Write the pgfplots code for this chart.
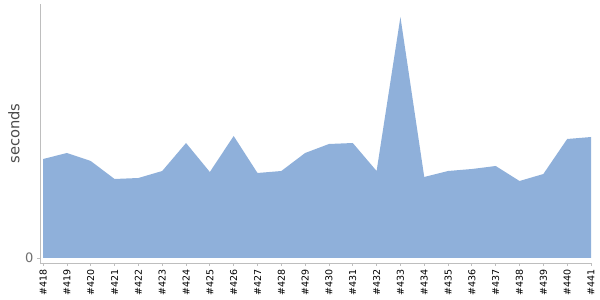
\documentclass[border=0pt]{standalone}
\usepackage{pgfplots}
\pgfplotsset{compat=1.18}
\usepackage{fontspec}
\setmainfont{DejaVu Sans}
\definecolor{areablue}{RGB}{143,176,218}
\definecolor{axisgray}{RGB}{190,190,190}
\definecolor{labgray}{RGB}{75,75,75}
\begin{document}
\begin{tikzpicture}[x=1pt,y=1pt]
\begin{axis}[
  scale only axis,
  width=551pt, height=259pt,
  xmin=-0.13, xmax=23,
  ymin=-5, ymax=254,
  axis x line*=bottom,
  axis y line*=left,
  axis line style={axisgray, line width=0.8pt},
  xtick={0,...,23},
  xticklabels={\#418,\#419,\#420,\#421,\#422,\#423,\#424,\#425,\#426,\#427,\#428,\#429,\#430,\#431,\#432,\#433,\#434,\#435,\#436,\#437,\#438,\#439,\#440,\#441},
  x tick label style={rotate=90, anchor=east, font=\fontsize{9.5}{10}\selectfont, text=black, inner sep=3.5pt},
  ytick={0},
  yticklabels={0},
  y tick label style={font=\fontsize{13}{13}\selectfont, text=labgray!80},
  tick style={axisgray, line width=0.8pt},
  tick align=outside,
  major tick length=3pt,
  ylabel={seconds},
  ylabel style={font=\fontsize{14.7}{15}\selectfont, text=labgray, at={(-26pt,0.5)}, anchor=center, rotate=0},
  /pgf/number format/assume math mode=true,
  clip=false,
]
\addplot[fill=areablue, draw=none] coordinates {
(0,99) (1,105) (2,97) (3,79) (4,80) (5,87) (6,115) (7,86) (8,122) (9,85) (10,87) (11,105) (12,114) (13,115) (14,87) (15,241) (16,81) (17,87) (18,89) (19,92) (20,77) (21,84) (22,119) (23,121)
} \closedcycle;
\end{axis}
\path (-40pt,-37pt) rectangle (560pt,263pt);
\end{tikzpicture}
\end{document}
